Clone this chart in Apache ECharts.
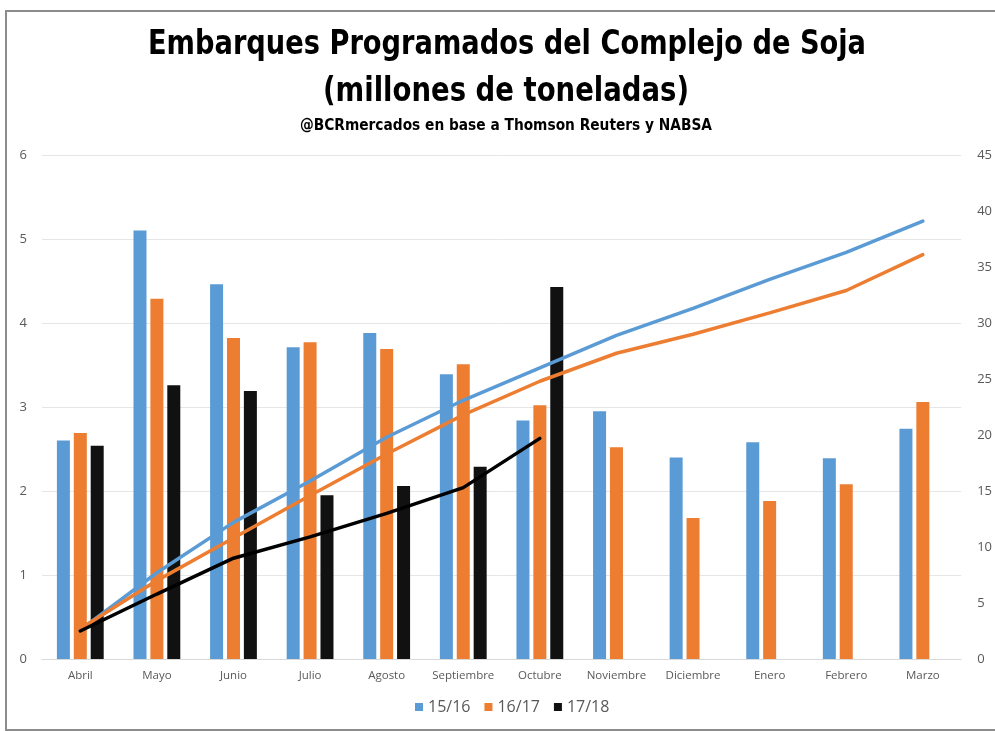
<!DOCTYPE html>
<html>
<head>
<meta charset="utf-8">
<script src="https://cdn.jsdelivr.net/npm/echarts@6/dist/echarts.min.js"></script>
<style>
html,body{margin:0;padding:0;background:#fff;}
#chart{width:995px;height:731px;}
</style>
</head>
<body>
<div id="chart"></div>
<script>
const categories = ['Abril','Mayo','Junio','Julio','Agosto','Septiembre','Octubre','Noviembre','Diciembre','Enero','Febrero','Marzo'];
const seriesNames = ['15/16','16/17','17/18'];
const bars1516 = [2.6, 5.1, 4.46, 3.71, 3.88, 3.39, 2.84, 2.95, 2.4, 2.58, 2.39, 2.74];
const bars1617 = [2.69, 4.29, 3.82, 3.77, 3.69, 3.51, 3.02, 2.52, 1.68, 1.88, 2.08, 3.06];
const bars1718 = [2.54, 3.26, 3.19, 1.95, 2.06, 2.29, 4.43, null, null, null, null, null];
const acum1516 = [2.6, 7.7, 12.2, 15.9, 19.8, 23.1, 26.0, 28.9, 31.3, 33.9, 36.3, 39.1];
const acum1617 = [2.7, 7.0, 10.8, 14.6, 18.3, 21.8, 24.8, 27.3, 29.0, 30.9, 32.9, 36.1];
const acum1718 = [2.5, 5.8, 9.0, 10.9, 13.0, 15.3, 19.7, null, null, null, null, null];
const leftTicks = {min: 0, max: 6, interval: 1};
const rightTicks = {min: 0, max: 45, interval: 5};
const titleLines = ['Embarques Programados del Complejo de Soja', '(millones de toneladas)'];
const subtitle = '@BCRmercados en base a Thomson Reuters y NABSA';

const colors = ['#5B9BD5', '#ED7D31', '#111111'];
const chart = echarts.init(document.getElementById('chart'), null, {renderer: 'canvas'});
const labelFont = '"Open Sans", "Liberation Sans", sans-serif';

// condensed look: measure text and squeeze horizontally to the reference width
const mctx = document.createElement('canvas').getContext('2d');
function fit(text, font, targetWidth) {
  mctx.font = font;
  return targetWidth / mctx.measureText(text).width;
}
const tFont = 'bold 33px "DejaVu Sans", "Liberation Sans", sans-serif';
const sFont = 'bold 15px "DejaVu Sans", "Liberation Sans", sans-serif';
function titleText(text, font, cx, baseline, width) {
  return {
    type: 'text', x: cx, y: baseline, scaleX: fit(text, font, width), scaleY: 1,
    silent: true, z: 50,
    style: {text: text, x: 0, y: 0, font: font, fill: '#000', align: 'center', verticalAlign: 'bottom'}
  };
}

function barSeries(name, data, color) {
  return {
    name: name, type: 'bar', data: data, yAxisIndex: 0,
    barWidth: 13, barGap: '30%',
    itemStyle: {color: color}, z: 2
  };
}
function lineSeries(name, data, color) {
  return {
    name: name, type: 'line', data: data, yAxisIndex: 1,
    symbol: 'none', smooth: false,
    lineStyle: {color: color, width: 3.5, cap: 'round'},
    itemStyle: {color: color}, z: 5
  };
}

chart.setOption({
  animation: false,
  backgroundColor: '#fff',
  graphic: [
    {type: 'rect', shape: {x: 6, y: 11, width: 1000, height: 719},
     style: {fill: 'none', stroke: '#8c8c8c', lineWidth: 2}, silent: true, z: 100},
    titleText(titleLines[0], tFont, 507, 62, 718),
    titleText(titleLines[1], tFont, 506, 109, 366),
    titleText(subtitle, sFont, 506, 134, 412)
  ],
  legend: {
    data: seriesNames, bottom: 11, left: 410,
    itemWidth: 8, itemHeight: 8, itemGap: 14, icon: 'rect',
    textStyle: {fontFamily: labelFont, fontSize: 16, color: '#595959'}
  },
  grid: {left: 42, right: 33, top: 155, bottom: 72, containLabel: false},
  xAxis: {
    type: 'category', data: categories,
    axisLine: {show: true, lineStyle: {color: '#d9d9d9'}},
    axisTick: {show: false},
    axisLabel: {fontFamily: labelFont, fontSize: 11.5, color: '#595959', margin: 11, interval: 0}
  },
  yAxis: [
    {type: 'value', min: leftTicks.min, max: leftTicks.max, interval: leftTicks.interval,
     axisLine: {show: false}, axisTick: {show: false},
     axisLabel: {fontFamily: labelFont, fontSize: 13, color: '#595959', margin: 15},
     splitLine: {lineStyle: {color: '#e6e6e6', width: 1}}},
    {type: 'value', min: rightTicks.min, max: rightTicks.max, interval: rightTicks.interval,
     position: 'right',
     axisLine: {show: false}, axisTick: {show: false},
     axisLabel: {fontFamily: labelFont, fontSize: 13, color: '#595959', margin: 16},
     splitLine: {show: false}}
  ],
  series: [
    barSeries(seriesNames[0], bars1516, colors[0]),
    barSeries(seriesNames[1], bars1617, colors[1]),
    barSeries(seriesNames[2], bars1718, colors[2]),
    lineSeries('Acumulado ' + seriesNames[0], acum1516, colors[0]),
    lineSeries('Acumulado ' + seriesNames[1], acum1617, colors[1]),
    lineSeries('Acumulado ' + seriesNames[2], acum1718, '#000000')
  ]
});
</script>
</body>
</html>
